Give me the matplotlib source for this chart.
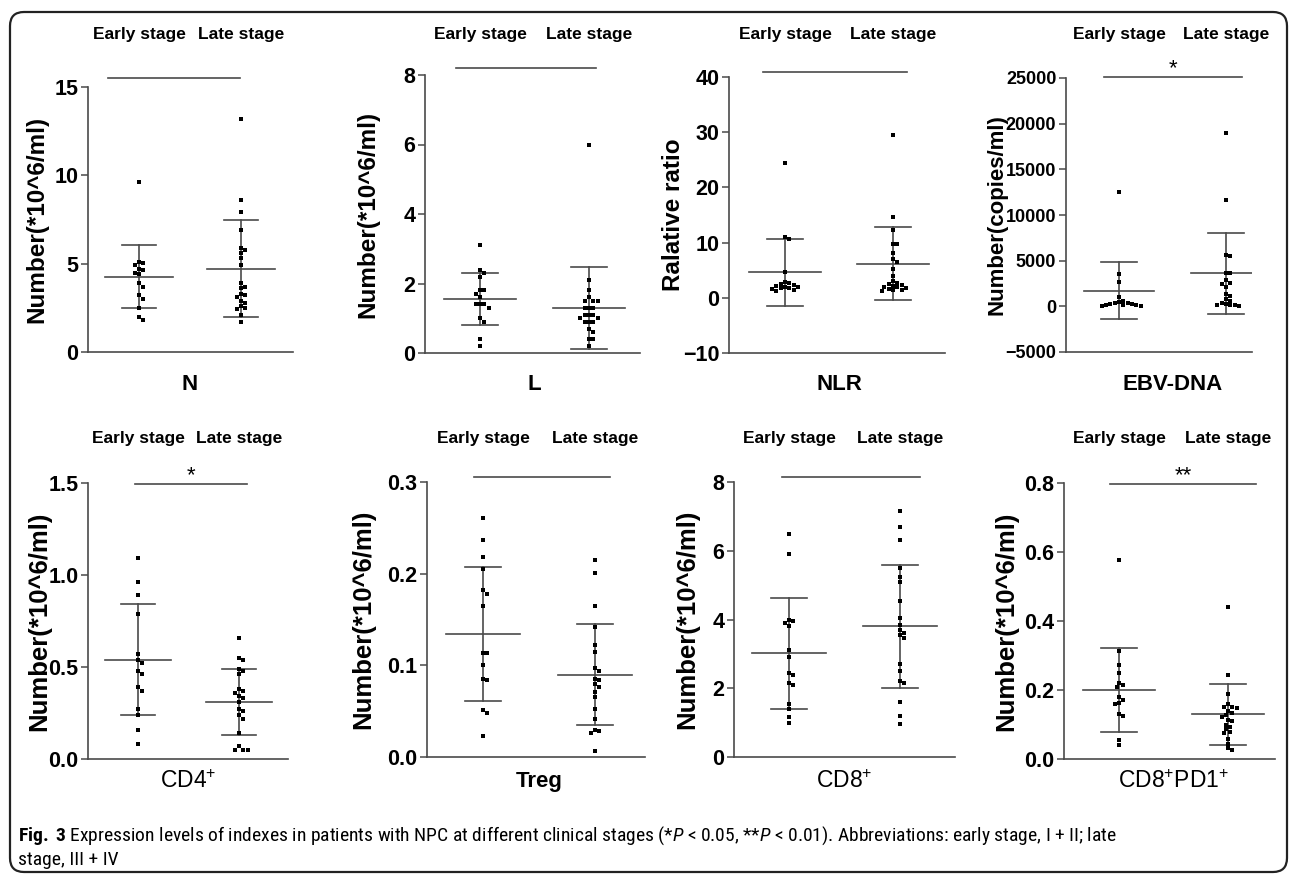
import numpy as np
import matplotlib
matplotlib.use("Agg")
import matplotlib.pyplot as plt
from matplotlib import font_manager as fm
from matplotlib.lines import Line2D
from matplotlib.patches import FancyBboxPatch
from matplotlib.transforms import IdentityTransform
from matplotlib.ticker import FormatStrFormatter

# ---- data ----
groups = ["Early stage", "Late stage"]
panel_names = ["N", "L", "NLR", "EBV-DNA", "CD4$^{+}$", "Treg", "CD8$^{+}$", "CD8$^{+}$PD1$^{+}$"]
ylabels = ["Number(*10^6/ml)", "Number(*10^6/ml)", "Ralative ratio", "Number(copies/ml)",
           "Number(*10^6/ml)", "Number(*10^6/ml)", "Number(*10^6/ml)", "Number(*10^6/ml)"]
signif = ["", "", "", "*", "*", "", "", "**"]

n_early = [9.6, 5.1, 5.05, 4.9, 4.7, 4.65, 4.5, 4.4, 3.9, 3.7, 3.2, 3.0, 2.5, 2.0, 1.8]
n_late = [13.2, 8.6, 7.9, 6.9, 5.9, 5.8, 5.6, 5.3, 4.9, 3.9, 3.7, 3.6, 3.3, 3.2, 3.1,
          2.9, 2.8, 2.6, 2.5, 2.45, 2.1, 1.7]
l_early = [3.1, 2.4, 2.3, 2.2, 1.8, 1.8, 1.7, 1.6, 1.4, 1.4, 1.4, 1.3, 1.0, 0.9, 0.4, 0.2]
l_late = [6.0, 2.1, 1.8, 1.6, 1.5, 1.5, 1.5, 1.3, 1.3, 1.3, 1.1, 1.1, 1.1, 1.0, 1.0,
          0.9, 0.9, 0.9, 0.7, 0.6, 0.4, 0.4, 0.2]
nlr_early = [24.5, 11.0, 10.6, 4.7, 2.8, 2.6, 2.5, 2.3, 2.1, 2.0, 1.9, 1.8, 1.7, 1.6, 1.5, 1.3]
nlr_late = [29.5, 14.7, 12.2, 9.7, 9.7, 8.2, 7.1, 6.5, 5.3, 4.0, 3.1, 2.7, 2.5, 2.4, 2.2,
            2.0, 1.9, 1.8, 1.6, 1.5, 1.4, 1.3]
ebv_early = [12500, 3500, 2700, 1000, 600, 500, 400, 350, 300, 250, 200, 150, 100, 80, 50]
ebv_late = [19000, 11600, 5600, 5500, 3700, 3600, 2900, 2600, 2500, 2100, 1300, 1100,
            800, 600, 400, 300, 200, 150, 100, 50]
cd4_early = [1.09, 0.96, 0.89, 0.79, 0.57, 0.54, 0.52, 0.48, 0.46, 0.39, 0.37, 0.27, 0.24, 0.16, 0.08]
cd4_late = [0.66, 0.55, 0.54, 0.49, 0.48, 0.46, 0.38, 0.37, 0.36, 0.34, 0.33, 0.31, 0.27,
            0.26, 0.24, 0.22, 0.14, 0.07, 0.05, 0.05, 0.05]
treg_early = [0.261, 0.237, 0.218, 0.205, 0.182, 0.178, 0.165, 0.114, 0.113, 0.100,
              0.085, 0.084, 0.051, 0.048, 0.023]
treg_late = [0.215, 0.201, 0.165, 0.142, 0.122, 0.115, 0.097, 0.094, 0.085, 0.084, 0.080,
             0.076, 0.071, 0.065, 0.052, 0.042, 0.030, 0.028, 0.026, 0.007]
cd8_early = [6.5, 5.9, 4.0, 3.95, 3.9, 3.8, 3.1, 2.9, 2.45, 2.4, 2.15, 2.1, 1.55, 1.4, 1.15, 1.0]
cd8_late = [7.15, 6.7, 6.3, 5.5, 5.25, 5.1, 4.55, 4.05, 3.85, 3.7, 3.6, 3.55, 3.45, 2.7,
            2.5, 2.2, 2.15, 1.6, 1.2, 0.95]
pd1_early = [0.577, 0.312, 0.273, 0.25, 0.22, 0.215, 0.208, 0.18, 0.172, 0.162, 0.16,
             0.13, 0.126, 0.055, 0.042]
pd1_late = [0.44, 0.244, 0.187, 0.16, 0.152, 0.15, 0.148, 0.14, 0.132, 0.128, 0.123, 0.112,
            0.11, 0.1, 0.092, 0.087, 0.078, 0.076, 0.058, 0.044, 0.031, 0.027]

early = [n_early, l_early, nlr_early, ebv_early, cd4_early, treg_early, cd8_early, pd1_early]
late = [n_late, l_late, nlr_late, ebv_late, cd4_late, treg_late, cd8_late, pd1_late]

# mean and SD bars as drawn in the figure
mean_early = [4.27, 1.55, 4.65, 1700, 0.54, 0.134, 3.02, 0.200]
sd_early = [1.78, 0.745, 6.05, 3100, 0.30, 0.073, 1.61, 0.123]
mean_late = [4.71, 1.29, 6.16, 3600, 0.31, 0.0896, 3.81, 0.129]
sd_late = [2.74, 1.18, 6.6, 4400, 0.177, 0.055, 1.79, 0.088]

yticks = [[0, 5, 10, 15], [0, 2, 4, 6, 8], [-10, 0, 10, 20, 30, 40],
          [-5000, 0, 5000, 10000, 15000, 20000, 25000], [0, 0.5, 1.0, 1.5],
          [0, 0.1, 0.2, 0.3], [0, 2, 4, 6, 8], [0, 0.2, 0.4, 0.6, 0.8]]

# ---- layout in pixels (x0, x1, ytop, ybottom, early x, late x) ----
W, H = 1290, 875
boxes = [(88, 293, 87, 352, 139, 241), (425, 640, 75, 353, 480, 589),
         (729, 945, 77, 353, 785, 893), (1066, 1252, 78, 352, 1119, 1226),
         (88, 288, 483, 759, 138, 239), (427, 645, 482, 757, 483, 595),
         (734, 955, 482, 757, 789, 900), (1064, 1275, 483, 759, 1119, 1228)]
brackets = [(108, 240, 78), (456, 596, 68), (763, 907, 72), (1104, 1242, 77),
            (135, 247, 484), (474, 610, 477), (782, 920, 477), (1110, 1256, 484)]
ylab_x = [37, 368, 673, 997, 39, 363, 687, 1006]
ylab_size = [17.5, 17.5, 17.5, 16, 18.5, 18.5, 18.5, 18.5]
tick_size = [15.5, 15.5, 15.5, 13, 15.5, 15.5, 15.5, 15.5]

plt.rcParams["font.family"] = ["Liberation Sans", "DejaVu Sans"]
plt.rcParams["mathtext.fontset"] = "custom"
plt.rcParams["mathtext.rm"] = "Liberation Sans"
plt.rcParams["mathtext.it"] = "Liberation Sans:italic"
plt.rcParams["mathtext.bf"] = "Liberation Sans:bold"

grey = "#4a4a4a"
fig = plt.figure(figsize=(W / 100, H / 100), dpi=100)


def swarm(ax, vals, xc, px_per_x, d=4.3):
    ys = ax.transData.transform(np.column_stack([np.zeros(len(vals)), vals]))[:, 1]
    order = np.argsort(-np.asarray(vals))
    placed = []
    xs = np.zeros(len(vals))
    for i in order:
        y = ys[i]
        for k in range(60):
            c = 0 if k == 0 else ((k + 1) // 2) * d * 0.5 * (1 if k % 2 else -1)
            if all((c - px) ** 2 + (y - py) ** 2 >= d ** 2 for px, py in placed):
                break
        placed.append((c, y))
        xs[i] = xc + c / px_per_x
    return xs


for i in range(8):
    x0, x1, yt, yb, g0, g1 = boxes[i]
    ax = fig.add_axes([x0 / W, 1 - yb / H, (x1 - x0) / W, (yb - yt) / H])
    unit = g1 - g0
    ax.set_xlim((x0 - g0) / unit, (x1 - g0) / unit)
    ax.set_ylim(yticks[i][0], yticks[i][-1])
    for sp in ["top", "right"]:
        ax.spines[sp].set_visible(False)
    for sp in ["left", "bottom"]:
        ax.spines[sp].set_color(grey)
        ax.spines[sp].set_linewidth(1.2)
    ax.set_xticks([])
    ax.set_yticks(yticks[i])
    if i in (4, 5, 7):
        ax.yaxis.set_major_formatter(FormatStrFormatter("%.1f"))
    ax.tick_params(axis="y", length=5, width=1.1, color=grey, pad=2, labelsize=tick_size[i])
    for t in ax.get_yticklabels():
        t.set_fontweight("bold")

    for g, (vals, m, s) in enumerate([(early[i], mean_early[i], sd_early[i]),
                                       (late[i], mean_late[i], sd_late[i])]):
        xs = swarm(ax, vals, g, unit)
        ax.plot(xs, vals, "s", color="black", ms=2.5, mew=0, clip_on=False, zorder=3)
        ax.plot([g - 0.33, g + 0.33], [m, m], color=grey, lw=1.2)
        ax.plot([g, g], [m - s, m + s], color=grey, lw=1.2)
        ax.plot([g - 0.165, g + 0.165], [m + s, m + s], color=grey, lw=1.2, clip_on=False)
        ax.plot([g - 0.165, g + 0.165], [m - s, m - s], color=grey, lw=1.2, clip_on=False)

    # group headers and panel name
    hy = 35 if i < 4 else 438
    for gx, name in zip((g0, g1), groups):
        fig.text(gx / W, 1 - hy / H, name, ha="center", va="center",
                 fontsize=12.5, fontweight="bold")
    ny = 385 if i < 4 else 781
    plain = i in (4, 6, 7)
    fig.text((g0 + g1) / 2 / W, 1 - ny / H, panel_names[i], ha="center", va="center",
             fontsize=16.5 if plain else 16,
             fontweight="normal" if plain else "bold")
    fig.text(ylab_x[i] / W, 1 - (yt + yb) / 2 / H, ylabels[i], rotation=90,
             ha="center", va="center", fontsize=ylab_size[i], fontweight="bold")

    bx0, bx1, by = brackets[i]
    fig.add_artist(Line2D([bx0 / W, bx1 / W], [1 - by / H, 1 - by / H], color=grey, lw=1.2))
    if signif[i]:
        fig.text((bx0 + bx1) / 2 / W, 1 - (by - 3) / H, signif[i], ha="center",
                 va="baseline", fontsize=16)

# caption
cap_family = "Liberation Sans"
for fam in ["Liberation Sans Narrow", "Roboto Condensed", "Open Sans Condensed"]:
    try:
        fm.findfont(fm.FontProperties(family=fam), fallback_to_default=False)
        cap_family = fam
        break
    except ValueError:
        pass
plt.rcParams["mathtext.it"] = cap_family + ":italic"
plt.rcParams["mathtext.bf"] = cap_family + ":bold"

fig.text(18 / W, 1 - 836 / H,
         r"$\mathbf{Fig.\ 3}$ Expression levels of indexes in patients with NPC at different "
         r"clinical stages (*$\mathit{P}$ < 0.05, **$\mathit{P}$ < 0.01). Abbreviations: "
         r"early stage, I + II; late",
         family=cap_family, fontsize=14, va="center", ha="left")
fig.text(18 / W, 1 - 860 / H, "stage, III + IV", family=cap_family, fontsize=14,
         va="center", ha="left")

fig.add_artist(FancyBboxPatch((10, 3), 1277, 860, boxstyle="round,pad=0,rounding_size=14",
                              transform=IdentityTransform(), fill=False, lw=1.6,
                              edgecolor="#222222"))

fig.savefig("out.png", dpi=100)
